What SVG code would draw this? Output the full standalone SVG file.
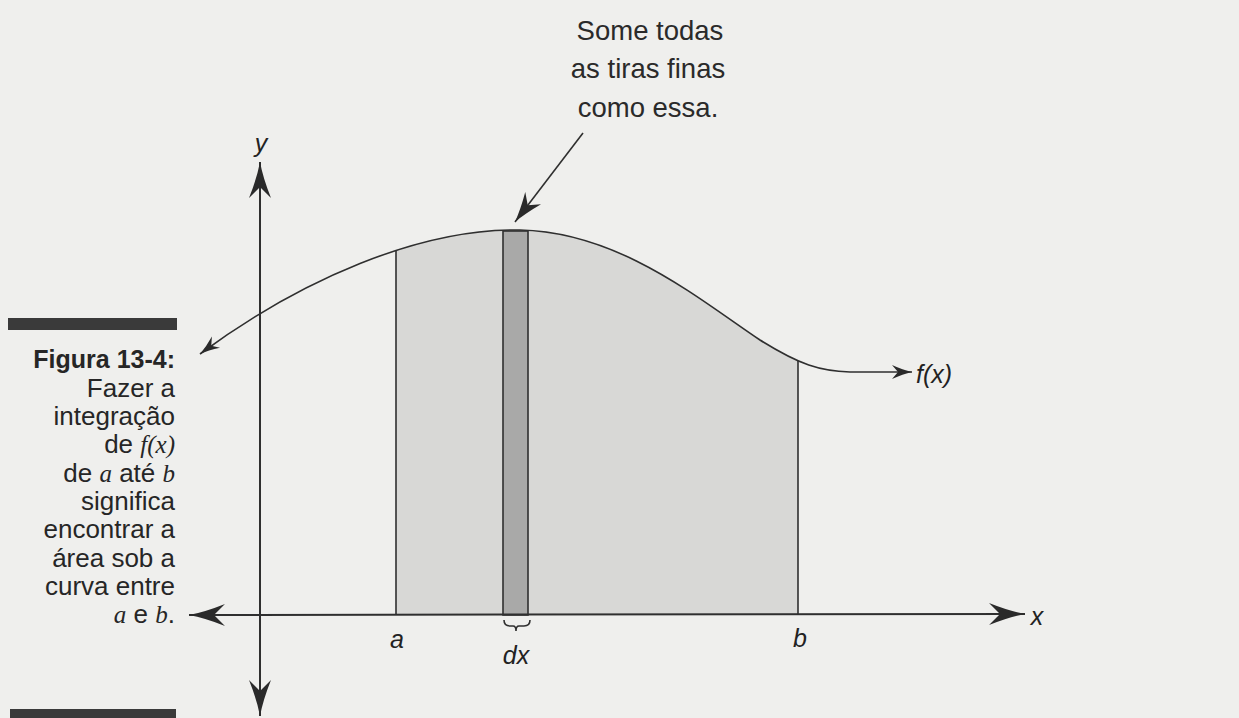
<svg xmlns="http://www.w3.org/2000/svg" width="1239" height="718" viewBox="0 0 1239 718">
<style>
.cap{font-family:"Liberation Sans",Arial,sans-serif;font-size:26px;fill:#262626;text-anchor:end}
.capb{font-weight:bold;font-size:25px}
.mi{font-family:"Liberation Serif","Times New Roman",serif;font-style:italic;font-size:25px}
.lbl{font-family:"Liberation Sans",Arial,sans-serif;font-style:italic;font-size:25px;fill:#222;text-anchor:middle}
.note{font-family:"Liberation Sans",Arial,sans-serif;font-size:27.5px;fill:#2a2a2a;text-anchor:middle}
.ax{stroke:#2f2f2f;stroke-width:2;fill:none}
.thin{stroke:#2f2f2f;stroke-width:1.6;fill:none}
</style>
<defs>
<marker id="bigArrow" markerUnits="userSpaceOnUse" markerWidth="40" markerHeight="26" refX="36" refY="11" orient="auto-start-reverse">
<path d="M0,0 Q20,8 36,11 Q20,14 0,22 L11,11 Z" fill="#2a2a2a"/>
</marker>
<marker id="smallArrow" markerUnits="userSpaceOnUse" markerWidth="24" markerHeight="18" refX="20" refY="7" orient="auto-start-reverse">
<path d="M0,0 Q11,5 20,7 Q11,9 0,14 L6,7 Z" fill="#2a2a2a"/>
</marker>
<marker id="ptrArrow" markerUnits="userSpaceOnUse" markerWidth="34" markerHeight="24" refX="30" refY="10" orient="auto">
<path d="M0,0 Q17,7 30,10 Q17,13 0,20 L9,10 Z" fill="#2a2a2a"/>
</marker>
<clipPath id="abClip"><rect x="396" y="0" width="402" height="615"/></clipPath>
</defs>
<rect width="1239" height="718" fill="#efefed"/>

<g id="caption">
<rect x="8" y="318" width="169" height="12" fill="#3a3a3a"/>
<text class="cap capb" x="175" y="368">Figura 13-4:</text>
<text class="cap" x="175" y="397">Fazer a</text>
<text class="cap" x="175" y="425">integração</text>
<text class="cap" x="175" y="453">de <tspan class="mi">f</tspan><tspan class="mi">(x)</tspan></text>
<text class="cap" x="175" y="482">de <tspan class="mi">a</tspan> até <tspan class="mi">b</tspan></text>
<text class="cap" x="175" y="510">significa</text>
<text class="cap" x="175" y="538">encontrar a</text>
<text class="cap" x="175" y="567">área sob a</text>
<text class="cap" x="175" y="595">curva entre</text>
<text class="cap" x="175" y="623"><tspan class="mi">a</tspan> e <tspan class="mi">b</tspan>.</text>
<rect x="10" y="709" width="166" height="9" fill="#3a3a3a"/>
</g>

<g id="area">
<path clip-path="url(#abClip)" d="M200,354 C300,280 420,228 520,230 C620,232 700,300 760,340 C800,365 820,371 850,372 L906,372 L906,615 L200,615 Z" fill="#d8d8d6"/>
<line class="thin" x1="396" y1="251" x2="396" y2="615"/>
<line class="thin" x1="798" y1="361" x2="798" y2="615"/>
</g>

<g id="strip">
<rect x="503" y="231" width="25" height="384" fill="#a9a9a8" stroke="#2f2f2f" stroke-width="1.6"/>
</g>

<g id="curve">
<path class="thin" d="M200,354 C300,280 420,228 520,230 C620,232 700,300 760,340 C800,365 820,371 850,372 L912,372" marker-start="url(#smallArrow)" marker-end="url(#smallArrow)"/>
<text class="lbl" x="934" y="383">f(x)</text>
</g>

<g id="axes">
<line class="ax" x1="260" y1="716" x2="260" y2="162" marker-start="url(#bigArrow)" marker-end="url(#bigArrow)"/>
<line class="ax" x1="189" y1="615" x2="1025" y2="614" marker-start="url(#bigArrow)" marker-end="url(#bigArrow)"/>
<text class="lbl" x="261" y="152">y</text>
<text class="lbl" x="1037" y="625">x</text>
</g>

<g id="labels">
<text class="lbl" x="397" y="648">a</text>
<text class="lbl" x="800" y="647">b</text>
<path class="thin" d="M504,620 Q504,626 510,626 L513,626 Q516,626 516,631 Q516,626 519,626 L524,626 Q530,626 530,620"/>
<text class="lbl" x="516" y="664">dx</text>
</g>

<g id="note">
<text class="note" x="650" y="40">Some todas</text>
<text class="note" x="648" y="78">as tiras finas</text>
<text class="note" x="648" y="117">como essa.</text>
</g>

<g id="connectors">
<line class="thin" x1="583" y1="133" x2="515" y2="222" marker-end="url(#ptrArrow)"/>
</g>
</svg>
